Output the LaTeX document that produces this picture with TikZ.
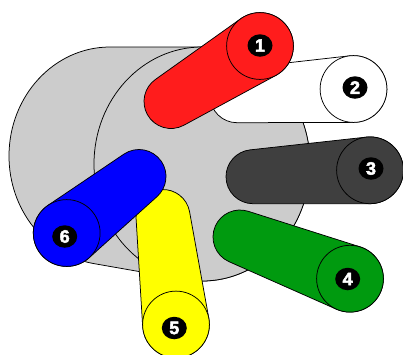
\documentclass[tikz,border=0pt]{standalone}
\usepackage{fontspec}
\setmainfont{Liberation Sans}
\newfontfamily\numfont[FakeBold=2.5]{Liberation Sans Bold}
\definecolor{cgray}{HTML}{CCCCCC}
\definecolor{cred}{HTML}{FF1C1C}
\definecolor{cdark}{HTML}{3F3F3F}
\definecolor{cgreen}{HTML}{009A0F}
\definecolor{cblue}{HTML}{0000FF}
\definecolor{cyellow}{HTML}{FFFF00}
\usetikzlibrary{shapes.geometric,calc}
\tikzset{
  outline/.style={draw=black,line width=0.75pt,line join=round},
  numdisc/.style={ellipse,fill=black,minimum width=25pt,minimum height=22.5pt,inner sep=0pt,text=white,font=\numfont\fontsize{18}{18}\selectfont},
}
% big centre, big r, small centre, small r, colour, name, label position
\newcommand{\cylinder}[9]{%
  \pgfmathsetmacro{\cyla}{atan2(#5-#2,#4-#1)}%
  \pgfmathsetmacro{\cyld}{veclen(#4-#1,#5-#2)}%
  \pgfmathsetmacro{\cylb}{acos((#3-#6)/\cyld)}%
  \pgfmathsetmacro{\cylp}{\cyla+\cylb}%
  \pgfmathsetmacro{\cylm}{\cyla-\cylb}%
  \pgfmathsetmacro{\cylq}{\cylm+360}%
  \draw[outline,fill=#7] ($(#4,#5)+(\cylm:#6pt)$) arc[start angle=\cylm,end angle=\cylp,radius=#6pt]
     -- ($(#1,#2)+(\cylp:#3pt)$) arc[start angle=\cylp,end angle=\cylq,radius=#3pt] -- cycle;
  \draw[outline,fill=#7] (#1,#2) circle[radius=#3pt];
  \node[numdisc] (#8) at (#9) {#8};%
}
\begin{document}
\begin{tikzpicture}[x=1pt,y=1pt,yscale=-1]
\useasboundingbox (0,0) rectangle (403,354);
\clip (0,0) rectangle (403,354);
\fill[white] (0,0) rectangle (403,354);
% body
\draw[outline,fill=cgray] (110,47) arc[start angle=270,end angle=99.4,x radius=101pt,y radius=109pt]
  -- (184,279.4) arc[start angle=99.6,end angle=-90,x radius=108pt,y radius=117pt] -- cycle;
\draw[outline,fill=cgray] (202,164) ellipse[x radius=108pt,y radius=117pt];
\cylinder{353.5}{89}{33.4}{237}{95.7}{27}{white}{2}{355,87.5}
\cylinder{260}{46}{33.4}{171}{101.5}{27}{cred}{1}{260,45.5}
\cylinder{370}{170.3}{33.4}{253}{176.7}{27}{cdark}{3}{371,168.5}
\cylinder{350}{278.7}{33.4}{240}{237}{27}{cgreen}{4}{347.7,279}
\cylinder{176}{324.5}{33.4}{163}{216.5}{27}{cyellow}{5}{174.3,328}
\cylinder{66.7}{233}{33.4}{139}{176.5}{27}{cblue}{6}{64.7,236.5}
\end{tikzpicture}
\end{document}
